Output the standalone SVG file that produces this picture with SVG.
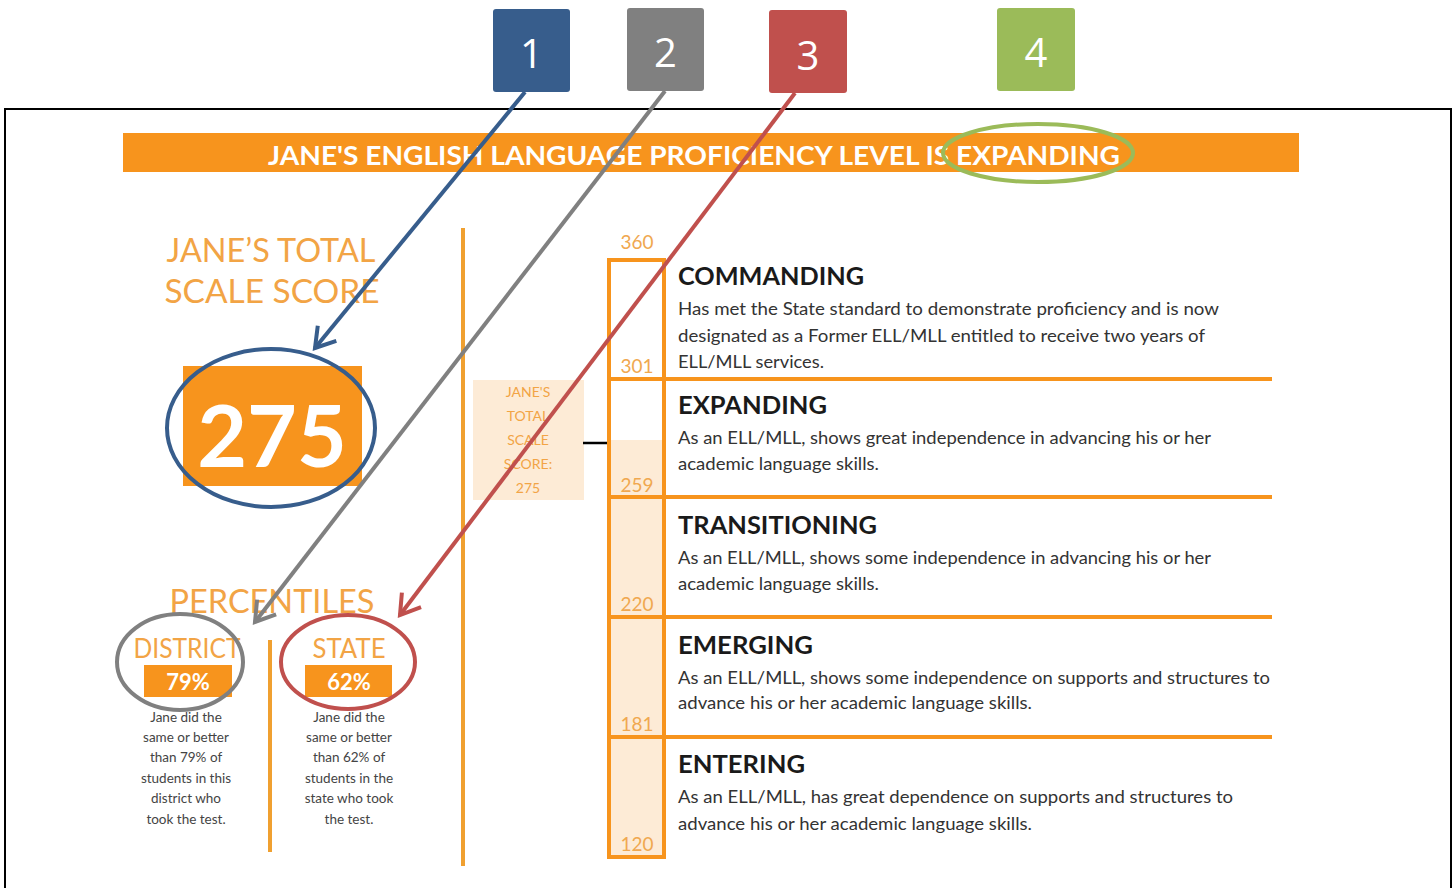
<svg xmlns="http://www.w3.org/2000/svg" width="1456" height="888" viewBox="0 0 1456 888">
<style>
.num{font-family:"Open Sans","Noto Sans",sans-serif;font-size:40px;fill:#fff;text-anchor:middle}
.ban{font-family:Lato,"Liberation Sans",sans-serif;font-weight:bold;fill:#fff;font-size:27px}
.lt{font-family:Lato,"Liberation Sans",sans-serif;fill:#F2A445;text-anchor:middle}
.sm{font-family:Lato,"Liberation Sans",sans-serif;font-size:13.5px;fill:#444;text-anchor:middle}
.hd{font-family:Lato,"Liberation Sans",sans-serif;font-weight:bold;font-size:25px;fill:#1a1a1a}
.ds{font-family:Lato,"Liberation Sans",sans-serif;font-size:16.5px;fill:#333}
.sc{font-family:Lato,"Liberation Sans",sans-serif;font-size:19px;fill:#F0A850;text-anchor:middle}
.or{stroke:#F7941D;stroke-width:4;fill:none}
</style>
<defs>
<marker id="ab" refX="0" refY="0" markerWidth="30" markerHeight="30" markerUnits="userSpaceOnUse" orient="auto" overflow="visible"><path d="M-19,-12 L0,0 L-19,12" fill="none" stroke="#375D8C" stroke-width="4"/></marker>
<marker id="ag" refX="0" refY="0" markerWidth="30" markerHeight="30" markerUnits="userSpaceOnUse" orient="auto" overflow="visible"><path d="M-19,-12 L0,0 L-19,12" fill="none" stroke="#808080" stroke-width="4"/></marker>
<marker id="ar" refX="0" refY="0" markerWidth="30" markerHeight="30" markerUnits="userSpaceOnUse" orient="auto" overflow="visible"><path d="M-19,-12 L0,0 L-19,12" fill="none" stroke="#C0504D" stroke-width="4"/></marker>
</defs>
<rect width="1456" height="888" fill="#fff"/>
<rect x="5" y="109" width="1446" height="800" fill="none" stroke="#000" stroke-width="2"/>

<g id="banner">
<rect x="123" y="133" width="1176" height="39" fill="#F7941D"/>
<text class="ban" x="268" y="165" textLength="852" lengthAdjust="spacingAndGlyphs">JANE'S ENGLISH LANGUAGE PROFICIENCY LEVEL IS EXPANDING</text>
</g>

<g id="score">
<text class="lt" x="271" y="262" font-size="33" textLength="209" lengthAdjust="spacingAndGlyphs">JANE’S TOTAL</text>
<text class="lt" x="272" y="303" font-size="33" textLength="215" lengthAdjust="spacingAndGlyphs">SCALE SCORE</text>
<rect x="183" y="366" width="179" height="120" fill="#F7941D"/>
<text x="272" y="467" font-family="Lato,'Liberation Sans',sans-serif" font-weight="bold" font-size="86" fill="#fff" text-anchor="middle">275</text>
</g>

<g id="dividers">
<line x1="463" y1="228" x2="463" y2="866" stroke="#F0A030" stroke-width="4"/>
<line x1="270" y1="640" x2="270" y2="852" stroke="#F0A030" stroke-width="4"/>
</g>

<g id="percentiles">
<text class="lt" x="272" y="613" font-size="33" textLength="205" lengthAdjust="spacingAndGlyphs">PERCENTILES</text>
<text class="lt" x="187" y="658" font-size="26" textLength="107" lengthAdjust="spacingAndGlyphs">DISTRICT</text>
<rect x="144" y="665" width="88" height="32" fill="#F7941D"/>
<text x="188" y="690" font-family="Lato,'Liberation Sans',sans-serif" font-weight="bold" font-size="22" fill="#fff" text-anchor="middle">79%</text>
<text class="sm" x="186" y="722">Jane did the</text>
<text class="sm" x="186" y="742">same or better</text>
<text class="sm" x="186" y="762">than 79% of</text>
<text class="sm" x="186" y="783">students in this</text>
<text class="sm" x="186" y="803">district who</text>
<text class="sm" x="186" y="824">took the test.</text>
<text class="lt" x="349" y="658" font-size="26" textLength="73" lengthAdjust="spacingAndGlyphs">STATE</text>
<rect x="305" y="665" width="87" height="32" fill="#F7941D"/>
<text x="349" y="690" font-family="Lato,'Liberation Sans',sans-serif" font-weight="bold" font-size="22" fill="#fff" text-anchor="middle">62%</text>
<text class="sm" x="349" y="722">Jane did the</text>
<text class="sm" x="349" y="742">same or better</text>
<text class="sm" x="349" y="762">than 62% of</text>
<text class="sm" x="349" y="783">students in the</text>
<text class="sm" x="349" y="803">state who took</text>
<text class="sm" x="349" y="824">the test.</text>
</g>

<g id="marker-box">
<rect x="473" y="380" width="111" height="120" fill="#FDEBD6"/>
<text class="lt" x="528" y="397" font-size="14">JANE'S</text>
<text class="lt" x="528" y="421" font-size="14">TOTAL</text>
<text class="lt" x="528" y="445" font-size="14">SCALE</text>
<text class="lt" x="528" y="469" font-size="14">SCORE:</text>
<text class="lt" x="528" y="493" font-size="14">275</text>
<line x1="583" y1="443" x2="607" y2="443" stroke="#000" stroke-width="2.5"/>
</g>

<g id="scale">
<rect x="609" y="440" width="55" height="417" fill="#FDEBD6"/>
<rect x="609" y="260" width="55" height="597" class="or"/>
<line x1="664" y1="260" x2="664" y2="857" class="or"/>
<line x1="609" y1="379" x2="1272" y2="379" class="or"/>
<line x1="609" y1="497" x2="1272" y2="497" class="or"/>
<line x1="609" y1="617" x2="1272" y2="617" class="or"/>
<line x1="609" y1="737" x2="1272" y2="737" class="or"/>
<text class="sc" x="637" y="249">360</text>
<text class="sc" x="637" y="373">301</text>
<text class="sc" x="637" y="492">259</text>
<text class="sc" x="637" y="611">220</text>
<text class="sc" x="637" y="731">181</text>
<text class="sc" x="637" y="851">120</text>
</g>

<g id="commanding">
<text class="hd" x="678" y="285" textLength="186" lengthAdjust="spacingAndGlyphs">COMMANDING</text>
<text class="ds" x="678" y="315" textLength="541" lengthAdjust="spacingAndGlyphs">Has met the State standard to demonstrate proficiency and is now</text>
<text class="ds" x="678" y="342" textLength="527" lengthAdjust="spacingAndGlyphs">designated as a Former ELL/MLL entitled to receive two years of</text>
<text class="ds" x="678" y="368" textLength="146" lengthAdjust="spacingAndGlyphs">ELL/MLL services.</text>
</g>
<g id="expanding">
<text class="hd" x="678" y="414" textLength="149" lengthAdjust="spacingAndGlyphs">EXPANDING</text>
<text class="ds" x="678" y="444" textLength="533" lengthAdjust="spacingAndGlyphs">As an ELL/MLL, shows great independence in advancing his or her</text>
<text class="ds" x="678" y="470" textLength="201" lengthAdjust="spacingAndGlyphs">academic language skills.</text>
</g>
<g id="transitioning">
<text class="hd" x="678" y="534" textLength="199" lengthAdjust="spacingAndGlyphs">TRANSITIONING</text>
<text class="ds" x="678" y="564" textLength="533" lengthAdjust="spacingAndGlyphs">As an ELL/MLL, shows some independence in advancing his or her</text>
<text class="ds" x="678" y="590" textLength="201" lengthAdjust="spacingAndGlyphs">academic language skills.</text>
</g>
<g id="emerging">
<text class="hd" x="678" y="654" textLength="135" lengthAdjust="spacingAndGlyphs">EMERGING</text>
<text class="ds" x="678" y="684" textLength="592" lengthAdjust="spacingAndGlyphs">As an ELL/MLL, shows some independence on supports and structures to</text>
<text class="ds" x="678" y="709" textLength="354" lengthAdjust="spacingAndGlyphs">advance his or her academic language skills.</text>
</g>
<g id="entering">
<text class="hd" x="678" y="773" textLength="127" lengthAdjust="spacingAndGlyphs">ENTERING</text>
<text class="ds" x="678" y="803" textLength="555" lengthAdjust="spacingAndGlyphs">As an ELL/MLL, has great dependence on supports and structures to</text>
<text class="ds" x="678" y="830" textLength="354" lengthAdjust="spacingAndGlyphs">advance his or her academic language skills.</text>
</g>

<g id="callouts" fill="none" stroke-width="4">
<ellipse cx="1038" cy="153" rx="95" ry="29" stroke="#9BBB59"/>
<ellipse cx="271" cy="428" rx="104" ry="79" stroke="#375D8C"/>
<ellipse cx="180" cy="662" rx="63" ry="48" stroke="#808080"/>
<ellipse cx="348" cy="662" rx="67" ry="47" stroke="#C0504D"/>
</g>

<g id="connectors" fill="none" stroke-width="4">
<line x1="525" y1="92" x2="315" y2="348" stroke="#375D8C" marker-end="url(#ab)"/>
<line x1="665" y1="91" x2="255" y2="622" stroke="#808080" marker-end="url(#ag)"/>
<line x1="795" y1="93" x2="400" y2="615" stroke="#C0504D" marker-end="url(#ar)"/>
</g>

<g id="label1"><rect x="493" y="9" width="77" height="83" rx="3" fill="#375D8C"/><text class="num" x="531.5" y="68">1</text></g>
<g id="label2"><rect x="627" y="8" width="77" height="83" rx="3" fill="#808080"/><text class="num" x="665.5" y="67">2</text></g>
<g id="label3"><rect x="769" y="10" width="78" height="83" rx="3" fill="#C0504D"/><text class="num" x="808" y="70">3</text></g>
<g id="label4"><rect x="997" y="8" width="78" height="83" rx="3" fill="#9BBB59"/><text class="num" x="1036" y="67">4</text></g>
</svg>
